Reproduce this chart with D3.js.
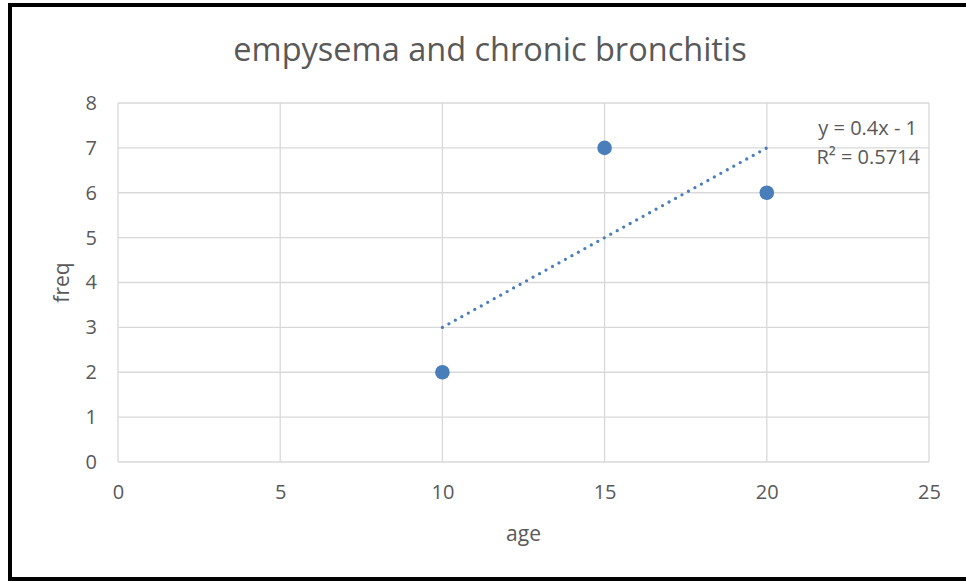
<!DOCTYPE html>
<html>
<head>
<meta charset="utf-8">
<script src="https://cdn.jsdelivr.net/npm/d3@7"></script>
<style>
  html, body { margin: 0; padding: 0; background: #fff; }
  svg { display: block; }
  text { font-family: "Open Sans", "Liberation Sans", sans-serif; fill: #595959; }
</style>
</head>
<body>
<svg id="chart"></svg>
<script>
// data
var title = 'empysema and chronic bronchitis'
var xLabel = 'age'
var yLabel = 'freq'
var ages = [10, 15, 20]
var freqs = [2, 7, 6]
var xTicks = [0, 5, 10, 15, 20, 25]
var yTicks = [0, 1, 2, 3, 4, 5, 6, 7, 8]

var width = 966, height = 581
var margin = { left: 118, right: 966 - 929, top: 103, bottom: 581 - 462 }
var colorPoint = '#4a7ebb'
var colorGrid = '#d9d9d9'

var svg = d3.select('#chart').attr('width', width).attr('height', height)

// outer frame
svg.append('rect')
  .attr('x', 10).attr('y', 5)
  .attr('width', 966).attr('height', 574)
  .attr('fill', '#fff').attr('stroke', '#000').attr('stroke-width', 4)

var x = d3.scaleLinear().domain([0, 25]).range([margin.left, width - margin.right])
var y = d3.scaleLinear().domain([0, 8]).range([height - margin.bottom, margin.top])

// gridlines
svg.append('g')
  .selectAll('line.h')
  .data(yTicks)
  .enter().append('line')
  .attr('x1', x(0)).attr('x2', x(25))
  .attr('y1', function(d) { return y(d) }).attr('y2', function(d) { return y(d) })
  .attr('stroke', colorGrid).attr('stroke-width', 1.3)

svg.append('g')
  .selectAll('line.v')
  .data(xTicks)
  .enter().append('line')
  .attr('x1', function(d) { return x(d) }).attr('x2', function(d) { return x(d) })
  .attr('y1', y(0)).attr('y2', y(8))
  .attr('stroke', colorGrid).attr('stroke-width', 1.3)

// axes (labels only)
svg.append('g')
  .attr('transform', 'translate(0,' + (y(0) + 23) + ')')
  .call(d3.axisBottom(x).tickValues(xTicks).tickSize(0).tickPadding(0))
svg.append('g')
  .attr('transform', 'translate(' + (x(0) - 21) + ',0)')
  .call(d3.axisLeft(y).tickValues(yTicks).tickSize(0).tickPadding(0))

svg.selectAll('.domain').remove()
svg.selectAll('.tick text')
  .style('font-family', '"Open Sans", sans-serif')
  .style('font-size', '20px')
  .attr('fill', '#595959')

// trendline (least squares)
var mx = d3.mean(ages), my = d3.mean(freqs)
var slope = d3.sum(ages, function(a, i) { return (a - mx) * (freqs[i] - my) }) /
            d3.sum(ages, function(a) { return (a - mx) * (a - mx) })
var intercept = my - slope * mx
var x0 = d3.min(ages), x1 = d3.max(ages)

svg.append('line')
  .attr('x1', x(x0)).attr('y1', y(slope * x0 + intercept))
  .attr('x2', x(x1)).attr('y2', y(slope * x1 + intercept))
  .attr('stroke', colorPoint)
  .attr('stroke-width', 3.3)
  .attr('stroke-linecap', 'round')
  .attr('stroke-dasharray', '0 7.4')

// points
svg.append('g')
  .selectAll('circle')
  .data(ages)
  .enter().append('circle')
  .attr('cx', function(d) { return x(d) })
  .attr('cy', function(d, i) { return y(freqs[i]) })
  .attr('r', 7.3)
  .attr('fill', colorPoint)

// title + axis labels
svg.append('text')
  .attr('x', 490).attr('y', 61)
  .attr('text-anchor', 'middle')
  .style('font-size', '32.5px')
  .text(title)

svg.append('text')
  .attr('x', x(12.5)).attr('y', 541)
  .attr('text-anchor', 'middle')
  .style('font-size', '21px')
  .text(xLabel)

svg.append('text')
  .attr('transform', 'translate(69,' + y(4) + ') rotate(-90)')
  .attr('text-anchor', 'middle')
  .style('font-size', '21px')
  .text(yLabel)

// equation
svg.append('text')
  .attr('x', 917).attr('y', 135)
  .attr('text-anchor', 'end')
  .style('font-size', '20px')
  .text('y = ' + slope.toFixed(1) + 'x - ' + Math.abs(intercept))
svg.append('text')
  .attr('x', 920).attr('y', 164)
  .attr('text-anchor', 'end')
  .style('font-size', '20px')
  .text('R² = 0.5714')
</script>
</body>
</html>
